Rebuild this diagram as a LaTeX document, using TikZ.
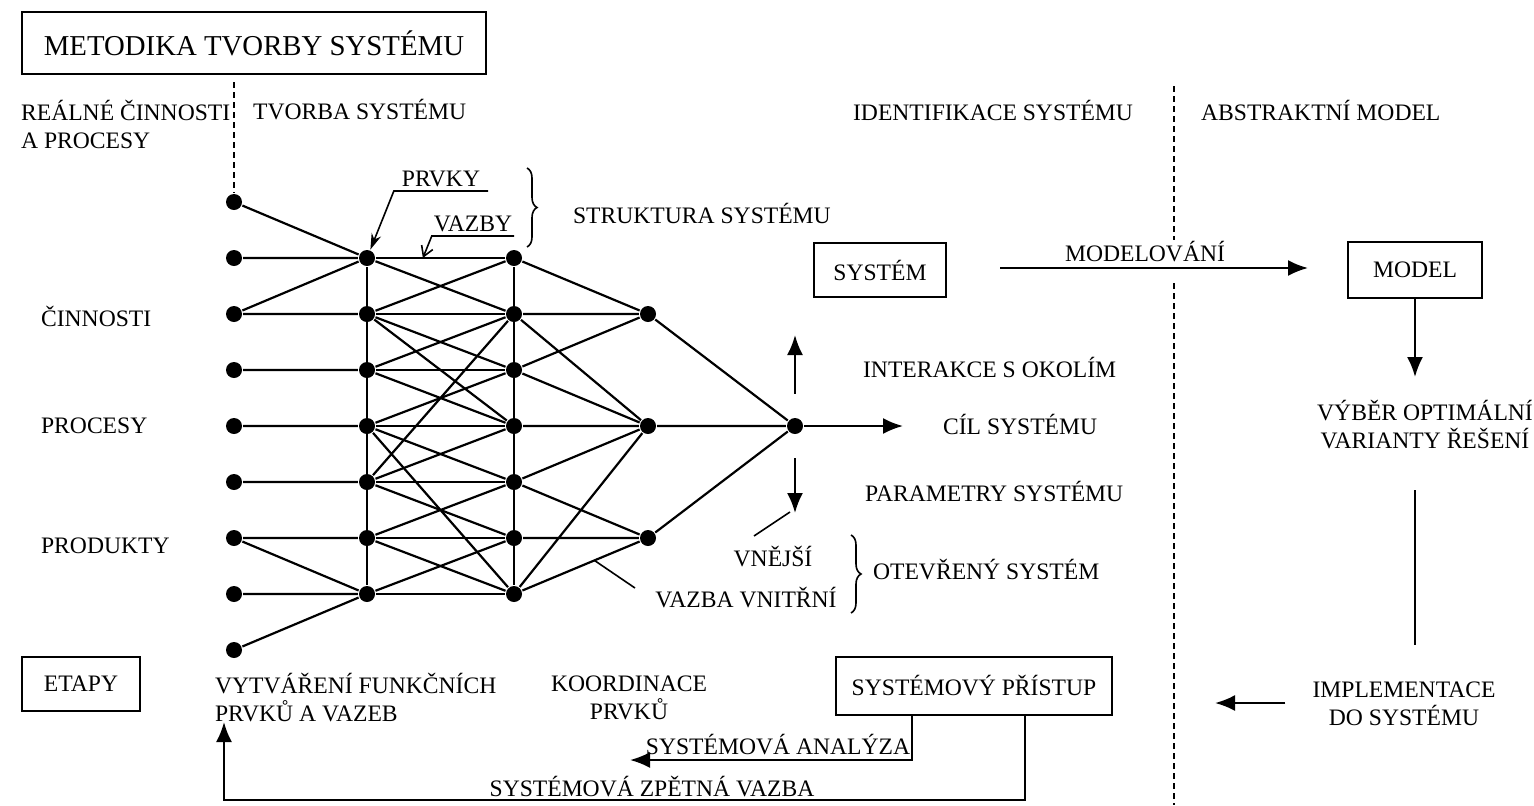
\documentclass[tikz,border=0pt]{standalone}
\usepackage{fontspec}
\setmainfont{Liberation Serif}
\usetikzlibrary{arrows.meta,calc,decorations.pathreplacing}

\tikzset{
  dot/.style={circle,fill=black,inner sep=0pt,minimum size=8pt},
  lbl/.style={inner sep=0pt,font=\fontsize{11.8}{14}\selectfont},
  box/.style={draw,line width=0.8pt,inner sep=0pt,font=\fontsize{11.8}{14}\selectfont},
  arr/.style={-{Latex[length=10pt,width=8pt]}},
  sepline/.style={line width=0.6pt,dash pattern=on 3pt off 2pt},
  brc/.style={line width=0.8pt,decorate,decoration={brace,amplitude=5pt}},
}

\begin{document}
\begin{tikzpicture}[x=0.5pt,y=0.5pt,yscale=-1,xscale=1,line width=1.1pt]
\useasboundingbox (0,0) rectangle (1534,805);

%Shape: Title box
\node[box,minimum width=232pt,minimum height=31pt,font=\fontsize{14.4}{17}\selectfont] (title) at (254,43) {METODIKA TVORBY SYSTÉMU};

% Text Node
\node[lbl,anchor=west,align=left] (real) at (20,124) {REÁLNÉ ČINNOSTI\\A PROCESY};
% Text Node
\node[lbl,anchor=west] (tvorba) at (252,110) {TVORBA SYSTÉMU};
% Text Node
\node[lbl,anchor=west] (ident) at (852,110) {IDENTIFIKACE SYSTÉMU};
% Text Node
\node[lbl,anchor=west] (abstr) at (1200,110) {ABSTRAKTNÍ MODEL};
% Text Node
\node[lbl,anchor=west] (cinn) at (40,316) {ČINNOSTI};
% Text Node
\node[lbl,anchor=west] (proc) at (40,426) {PROCESY};
% Text Node
\node[lbl,anchor=west] (prod) at (40,546) {PRODUKTY};

%Shape: Circle (inputs)
\node[dot] (a1) at (234,202) {};
\node[dot] (a2) at (234,258) {};
\node[dot] (a3) at (234,314) {};
\node[dot] (a4) at (234,370) {};
\node[dot] (a5) at (234,426) {};
\node[dot] (a6) at (234,482) {};
\node[dot] (a7) at (234,538) {};
\node[dot] (a8) at (234,594) {};
\node[dot] (a9) at (234,650) {};
%Shape: Circle (prvky)
\node[dot] (b1) at (367,258) {};
\node[dot] (b2) at (367,314) {};
\node[dot] (b3) at (367,370) {};
\node[dot] (b4) at (367,426) {};
\node[dot] (b5) at (367,482) {};
\node[dot] (b6) at (367,538) {};
\node[dot] (b7) at (367,594) {};
%Shape: Circle (koordinace)
\node[dot] (c1) at (514,258) {};
\node[dot] (c2) at (514,314) {};
\node[dot] (c3) at (514,370) {};
\node[dot] (c4) at (514,426) {};
\node[dot] (c5) at (514,482) {};
\node[dot] (c6) at (514,538) {};
\node[dot] (c7) at (514,594) {};
%Shape: Circle (outputs)
\node[dot] (d1) at (648,314) {};
\node[dot] (d2) at (648,426) {};
\node[dot] (d3) at (648,538) {};
\node[dot] (e) at (795,426) {};

%Straight Lines: inputs
\draw (a1) -- (b1) (a2) -- (b1) (a3) -- (b1) (a3) -- (b2) (a4) -- (b3) (a5) -- (b4)
      (a6) -- (b5) (a7) -- (b6) (a7) -- (b7) (a8) -- (b7) (a9) -- (b7);
%Straight Lines: columns
\draw (b1) -- (b7);
\draw (c1) -- (c7);
%Straight Lines: rows
\draw (b1) -- (c1) (b2) -- (c2) (b3) -- (c3) (b4) -- (c4) (b5) -- (c5) (b6) -- (c6) (b7) -- (c7);
%Straight Lines: cross links
\draw (b1) -- (c2) (c1) -- (b2) (b2) -- (c3) (c2) -- (b3) (b3) -- (c4) (c3) -- (b4)
      (b4) -- (c5) (c4) -- (b5) (b5) -- (c6) (c5) -- (b6) (b6) -- (c7) (c6) -- (b7);
\draw (b2) -- (c4) (c2) -- (b5) (b4) -- (c7);
%Straight Lines: outputs
\draw (c1) -- (d1) (c2) -- (d1) (c3) -- (d1)
      (c2) -- (d2) (c3) -- (d2) (c4) -- (d2) (c5) -- (d2) (c7) -- (d2)
      (c5) -- (d3) (c6) -- (d3) (c7) -- (d3);
\draw (d1) -- (e) (d2) -- (e) (d3) -- (e);

%Dashed separators
\coordinate (sepL) at (234,82);
\draw[sepline] (sepL) -- (a1);
\coordinate (sepR1) at (1174,86);
\coordinate (sepR2) at (1174,240);
\coordinate (sepR3) at (1174,283);
\coordinate (sepR4) at (1174,805);
\draw[sepline] (sepR1) -- (sepR2) (sepR3) -- (sepR4);

% Text Node: prvky, vazby
\node[lbl,anchor=south,inner xsep=3.5pt,inner ysep=1.5pt] (prvky) at (441,191) {PRVKY};
\draw[line width=0.8pt,-{Stealth[length=8pt,width=5pt]}] (prvky.south east) -- (prvky.south west) -- (b1);
\node[lbl,anchor=south,inner xsep=0.5pt,inner ysep=1.5pt] (vazby) at (473,236) {VAZBY};
\coordinate (vazbyhit) at ($(b1)!0.38!(c1)$);
\draw[line width=0.8pt,-{Straight Barb[length=5pt,width=6pt]}] (vazby.south east) -- (vazby.south west) -- (vazbyhit);
%Brace
\draw[brc] (527,168) -- (527,247);
% Text Node
\node[lbl,anchor=west] (strukt) at (572,213) {STRUKTURA SYSTÉMU};

%Shape: System and model boxes
\node[box,minimum width=66pt,minimum height=27pt] (sys) at (880,270) {SYSTÉM};
\node[box,minimum width=67pt,minimum height=28pt] (model) at (1415,270) {MODEL};
\coordinate (modS) at (1000,268);
\coordinate (modT) at (1308,268);
\draw[arr] (modS) -- (modT);
\node[lbl] (modl) at (1145,252) {MODELOVÁNÍ};

% Text Node
\node[lbl,align=center] (vyber) at (1425,425) {VÝBĚR OPTIMÁLNÍ\\VARIANTY ŘEŠENÍ};
\coordinate (vybT) at (1415,377);
\draw[arr] (model.south) -- (vybT);
% Text Node
\node[lbl,align=center] (impl) at (1404,704) {IMPLEMENTACE\\DO SYSTÉMU};
\draw[shorten <=20pt,shorten >=18pt] (vyber.south -| model.south) -- (impl.north -| model.south);
\coordinate (implT) at (1215,703);
\draw[arr,shorten <=13pt] (impl.west |- implT) -- (implT);

%Goal of the system
\coordinate (upT) at (795,335);
\coordinate (downT) at (795,513);
\coordinate (goalT) at (903,426);
\draw[arr,shorten <=11.5pt] (e) -- (upT);
\draw[arr,shorten <=11.5pt] (e) -- (downT);
\draw[arr] (e) -- (goalT);
% Text Node
\node[lbl,anchor=west] (inter) at (862,367) {INTERAKCE S OKOLÍM};
\node[lbl,anchor=west] (cil) at (942,424) {CÍL SYSTÉMU};
\node[lbl,anchor=west] (param) at (864,491) {PARAMETRY SYSTÉMU};

%Open system
\node[lbl] (vnejsi) at (773,557) {VNĚJŠÍ};
\node[lbl] (vnitrni) at (746,598) {VAZBA VNITŘNÍ};
\coordinate (vnejsiP) at (754,536);
\coordinate (vnejsiH) at (790,512);
\draw[line width=0.8pt] (vnejsiP) -- (vnejsiH);
\coordinate (vnitrP) at (635,588);
\coordinate (vnitrH) at ($(c7)!0.6!(d3)$);
\draw[line width=0.8pt] (vnitrP) -- (vnitrH);
\draw[brc] (851,535) -- (851,613);
\node[lbl,anchor=west] (otevr) at (872,570) {OTEVŘENÝ SYSTÉM};

%Stages
\node[box,minimum width=59pt,minimum height=27pt] (etapy) at (81,684) {ETAPY};
\node[lbl,anchor=west,align=left] (vytv) at (214,698) {VYTVÁŘENÍ FUNKČNÍCH\\PRVKŮ A VAZEB};
\node[lbl,align=center] (koord) at (629,698) {KOORDINACE\\PRVKŮ};
\node[box,minimum width=138pt,minimum height=29pt] (pristup) at (974,686) {SYSTÉMOVÝ PŘÍSTUP};

%Analysis and feedback
\coordinate (anaT) at (630,760);
\draw[arr] ([xshift=-31pt]pristup.south) |- (anaT);
\node[lbl] (ana) at (778,745) {SYSTÉMOVÁ ANALÝZA};
\coordinate (fbC) at (224,800);
\coordinate (fbT) at (224,722);
\draw[arr] ([xshift=25.5pt]pristup.south) |- (fbC) -- (fbT);
\node[lbl] (fb) at (652,787) {SYSTÉMOVÁ ZPĚTNÁ VAZBA};

\end{tikzpicture}
\end{document}
